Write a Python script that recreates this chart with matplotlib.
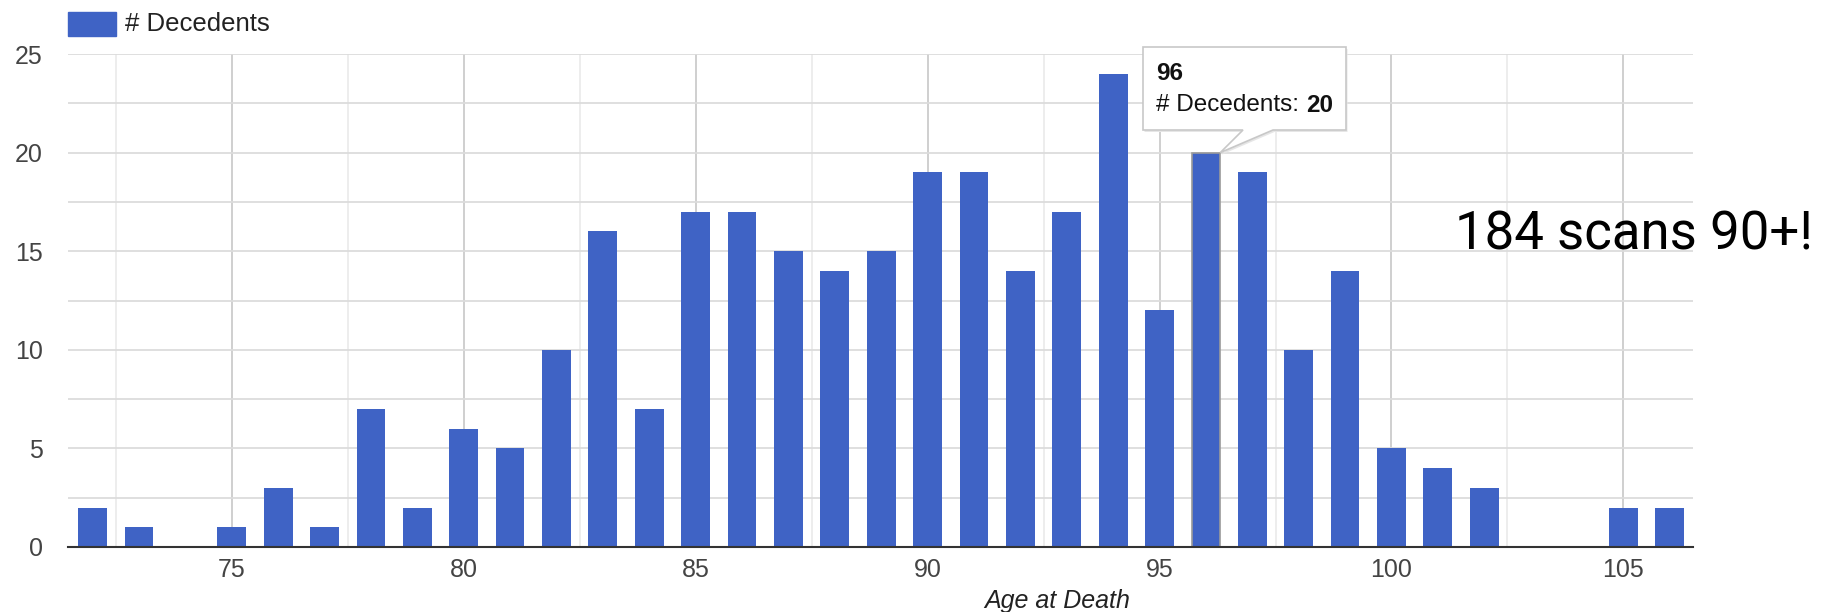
import matplotlib
matplotlib.use("Agg")
import matplotlib.pyplot as plt
from matplotlib.patches import Rectangle, Polygon
import numpy as np

# data
ages = list(range(72, 107))
decedents = [2, 1, 0, 1, 3, 1, 7, 2, 6, 5,
             10, 16, 7, 17, 17, 15, 14, 15, 19, 19,
             14, 17, 24, 12, 20, 19, 10, 14, 5, 4,
             3, 0, 0, 2, 2]
series_name = "# Decedents"
xlabel = "Age at Death"
hover_age = 96
note = "184 scans 90+!"

bar_color = "#3f63c5"
W, H = 1825, 612

plt.rcParams['font.family'] = ['Liberation Sans', 'DejaVu Sans']

fig = plt.figure(figsize=(W / 100, H / 100), dpi=100)
ax = fig.add_axes([68 / W, 1 - 547 / H, (1693 - 68) / W, (547 - 54) / H])

bar_w = 0.62
bars = ax.bar(ages, decedents, width=bar_w, color=bar_color, zorder=3)
hi = ages.index(hover_age)
bars[hi].set_edgecolor('#9a9a9a')
bars[hi].set_linewidth(1.2)

ax.set_xlim(71.47, 106.5)
ax.set_ylim(0, 25)
ax.set_xticks(np.arange(75, 106, 5))
ax.set_xticks(np.arange(72.5, 106, 5), minor=True)
ax.set_yticks(np.arange(0, 26, 5))
ax.set_yticks(np.arange(2.5, 25, 5), minor=True)
ax.tick_params(which='both', length=0)
ax.tick_params(axis='x', pad=8, labelsize=18, labelcolor='#444444')
ax.tick_params(axis='y', pad=18, labelsize=18, labelcolor='#444444')

ax.grid(axis='x', which='major', color='#cccccc', linewidth=1.3, zorder=0)
ax.grid(axis='x', which='minor', color='#e8e8e8', linewidth=1.1, zorder=0)
ax.grid(axis='y', which='both', color='#dcdcdc', linewidth=1.3, zorder=0)
for s in ['top', 'right', 'left']:
    ax.spines[s].set_visible(False)
ax.spines['bottom'].set_color('#333333')
ax.spines['bottom'].set_linewidth(1.5)
ax.spines['bottom'].set_zorder(4)

# legend
fig.patches.append(Rectangle((68 / W, 1 - 36 / H), 48 / W, 24 / H,
                             transform=fig.transFigure, color=bar_color))
fig.text(125 / W, 1 - 24 / H, series_name, fontsize=18.5, color='#222222',
         va='center', ha='left')

# axis title
fig.text(1057 / W, 1 - 601 / H, xlabel, fontsize=18, style='italic',
         color='#222222', ha='center', va='center')

# tooltip on the hovered bar
tip = ax.transData.transform((hover_age + bar_w / 2, decedents[hi]))
bx0, bx1, by0, by1 = 1143, 1346, H - 130, H - 47
pts = [(bx0, by1), (bx1, by1), (bx1, by0), (1273, by0), (tip[0], tip[1]),
       (1243, by0), (bx0, by0)]
shadow = Polygon([(x + 1.5, y - 2) for x, y in pts], closed=True, transform=None,
                 facecolor='#e6e6e6', edgecolor='none', zorder=5)
box = Polygon(pts, closed=True, transform=None, facecolor='white',
              edgecolor='#c8c8c8', linewidth=1.2, zorder=6)
fig.patches.extend([shadow, box])
fig.text(1156 / W, 1 - 73 / H, str(hover_age), fontsize=17.5, weight='bold',
         color='#111111', va='center', ha='left', zorder=7)
t1 = fig.text(1156 / W, 1 - 105 / H, series_name + ": ", fontsize=17.5,
              color='#111111', va='center', ha='left', zorder=7)
fig.canvas.draw()
ext = t1.get_window_extent()
fig.text(ext.x1 / W, 1 - 105 / H, str(decedents[hi]), fontsize=17.5,
         weight='bold', color='#111111', va='center', ha='left', zorder=7)

# callout
fig.text(1455 / W, 1 - 235 / H, note, fontsize=38, color='black',
         family=['Roboto', 'DejaVu Sans'], va='center', ha='left')

fig.savefig("out.png", dpi=100, facecolor='white')
